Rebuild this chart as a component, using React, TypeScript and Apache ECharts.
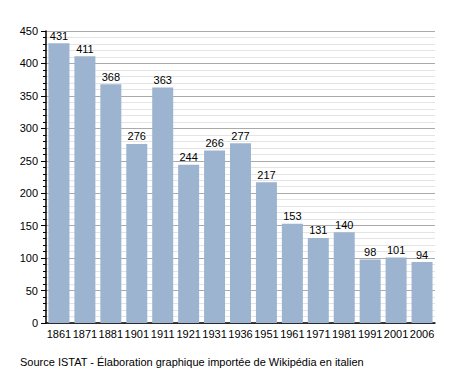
import React, { useEffect, useRef } from "react";
import * as echarts from "echarts";

const categories = ["1861", "1871", "1881", "1901", "1911", "1921", "1931", "1936", "1951", "1961", "1971", "1981", "1991", "2001", "2006"];
const population = [431, 411, 368, 276, 363, 244, 266, 277, 217, 153, 131, 140, 98, 101, 94];
const sourceText = "Source ISTAT - Élaboration graphique importée de Wikipédia en italien";

export default function App() {
  const ref = useRef<HTMLDivElement>(null);
  useEffect(() => {
    const chart = echarts.init(ref.current!, null, { renderer: "svg" });
    chart.setOption({
      animation: false,
      textStyle: { fontFamily: "Liberation Sans, Arial, sans-serif" },
      grid: { left: 46, right: 29, top: 31, bottom: 50 },
      xAxis: {
        type: "category",
        data: categories,
        axisLine: { lineStyle: { color: "#000", width: 1.5 } },
        axisTick: { show: false },
        axisLabel: { color: "#000", fontSize: 11, margin: 5, interval: 0 },
      },
      yAxis: {
        type: "value",
        min: 0,
        max: 450,
        interval: 50,
        axisLine: { show: true, lineStyle: { color: "#000", width: 1.5 } },
        axisTick: { show: true, length: 5, lineStyle: { color: "#000" } },
        minorTick: { show: true, splitNumber: 5, length: 3, lineStyle: { color: "#000" } },
        axisLabel: { color: "#000", fontSize: 11, margin: 8 },
        splitLine: { show: true, lineStyle: { color: "#aaa", width: 1 } },
        minorSplitLine: { show: true, lineStyle: { color: "#e4e4e4", width: 1 } },
      },
      series: [
        {
          type: "bar",
          data: population,
          barWidth: 21,
          itemStyle: { color: "#9cb4d0" },
          label: { show: true, position: "top", color: "#000", fontSize: 11, distance: 2 },
        },
      ],
      graphic: [
        {
          type: "text",
          left: 20,
          top: 356,
          style: { text: sourceText, fontSize: 11, fill: "#000", fontFamily: "Liberation Sans, Arial, sans-serif" },
        },
      ],
    });
    return () => chart.dispose();
  }, []);
  return <div ref={ref} style={{ width: 464, height: 373, position: "absolute", left: 0, top: 0 }} />;
}
